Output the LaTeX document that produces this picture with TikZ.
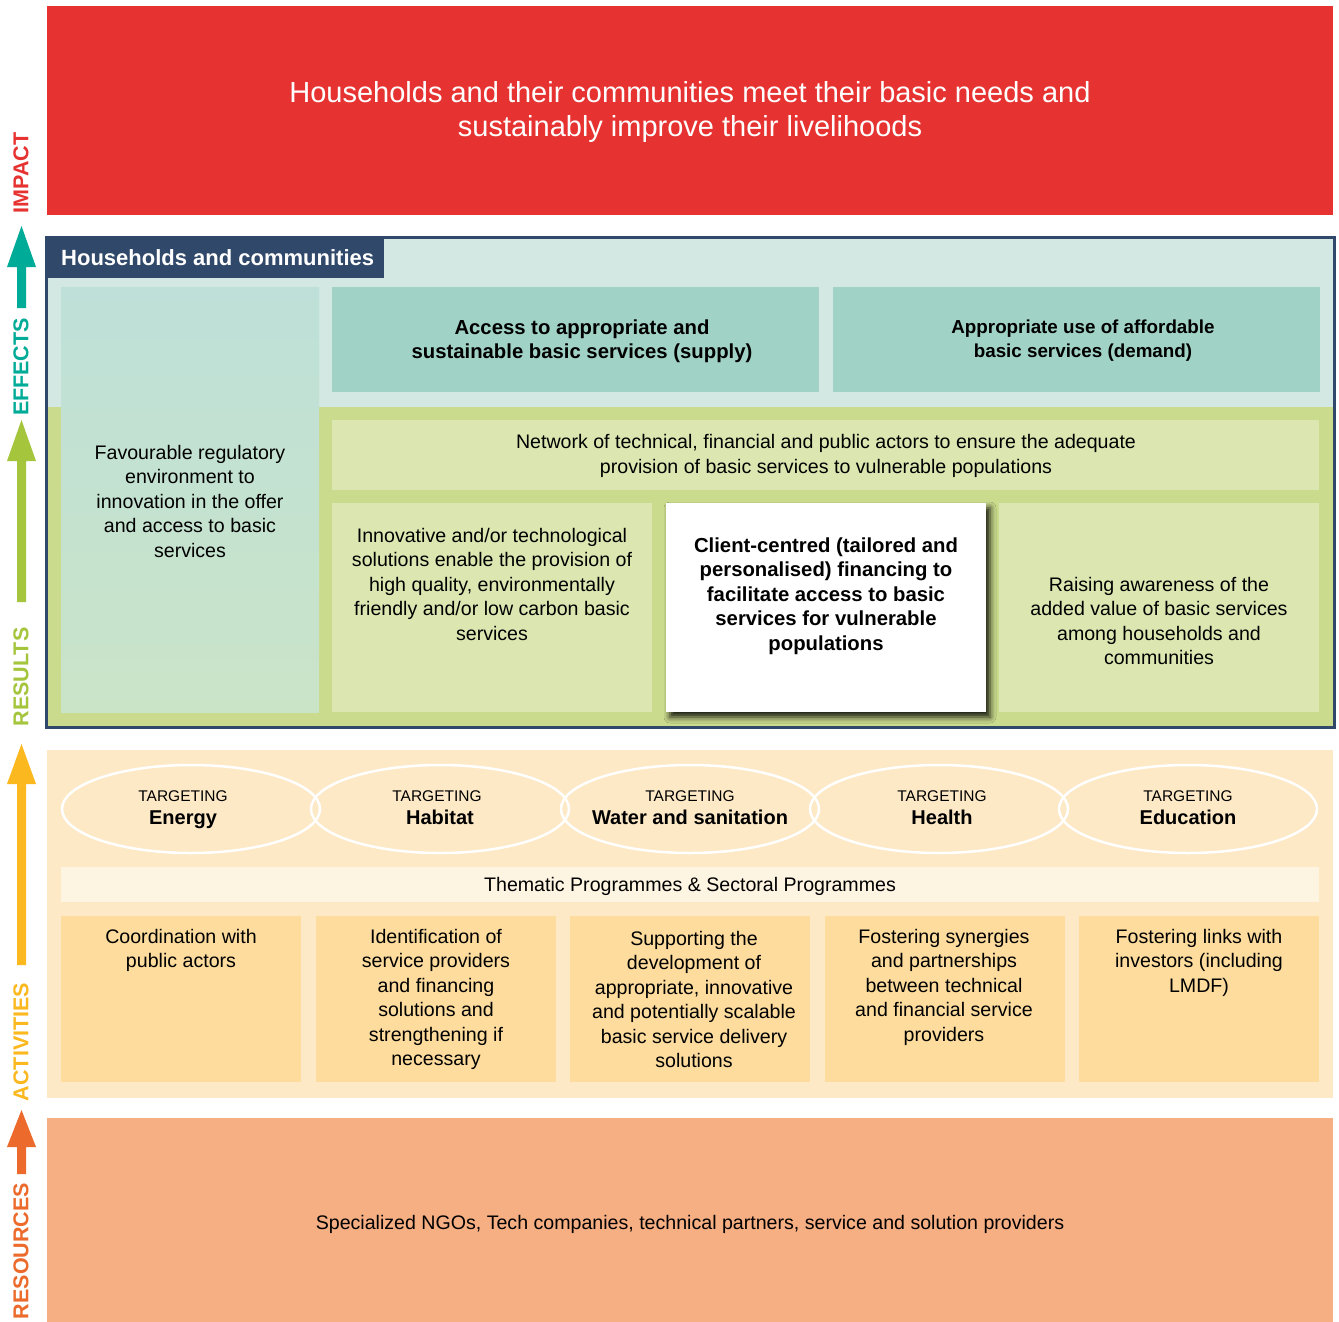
\documentclass[tikz,border=0pt]{standalone}
\usepackage{fontspec}
\setmainfont{Liberation Sans}
\usetikzlibrary{shapes.geometric,shadows.blur}
\definecolor{impactred}{HTML}{E63331}
\definecolor{navy}{HTML}{30486A}
\definecolor{teallight}{HTML}{D3E8E2}
\definecolor{tealbox}{HTML}{A1D2C6}
\definecolor{greenbg}{HTML}{CBDB8D}
\definecolor{greenbox}{HTML}{DCE6B1}
\definecolor{effteal}{HTML}{00AB97}
\definecolor{resgreen}{HTML}{A5C53C}
\definecolor{actyellow}{HTML}{FBB81F}
\definecolor{resorange}{HTML}{EC6A2B}
\definecolor{peachbg}{HTML}{FDE9C6}
\definecolor{peachband}{HTML}{FDF4E1}
\definecolor{peachbox}{HTML}{FDDC9D}
\definecolor{orangebg}{HTML}{F6AE83}
\definecolor{colA}{HTML}{BEE0D8}
\definecolor{colB}{HTML}{CAE4C8}
\tikzset{
  box/.style={rectangle, draw=none, inner sep=0pt, outer sep=0pt},
  body/.style={font=\fontsize{19.6}{24.5}\selectfont, align=center, inner sep=0pt, text=black},
  bodyb/.style={body, font=\fontsize{20.3}{24.5}\selectfont\bfseries},
  sidelabel/.style={rotate=90, inner sep=0pt, font=\fontsize{21.5}{21.5}\selectfont\bfseries},
  ell/.style={ellipse, draw=white, line width=2.5pt, minimum width=258pt, minimum height=88pt, inner sep=0pt},
  tgt/.style={inner sep=0pt, font=\fontsize{15.5}{15.5}\selectfont},
  tgtname/.style={inner sep=0pt, font=\fontsize{20}{20}\selectfont\bfseries},
  actbox/.style={box, fill=peachbox, minimum width=240pt, minimum height=166pt},
}
\begin{document}
\begin{tikzpicture}[x=1pt,y=-1pt]
\useasboundingbox (0,0) rectangle (1339,1322);
\fill[white] (0,0) rectangle (1339,1322);

% IMPACT
\node[box, fill=impactred, minimum width=1286pt, minimum height=209pt] (impact) at (690,110.5) {};
\node[inner sep=0pt, text=white, align=center, font=\fontsize{29}{34}\selectfont] (impacttxt) at (690,112)
  {Households and their communities meet their basic needs and\\sustainably improve their livelihoods};

% Frame
\node[box, fill=teallight, minimum width=1288pt, minimum height=490pt] (frame) at (690.5,482.5) {};
\fill[greenbg] (48,407) rectangle (1333,726);
\draw[navy, line width=3pt] (frame.south west) rectangle (frame.north east);
\node[box, fill=navy, minimum width=339pt, minimum height=42pt] (tab) at (214.5,257) {};
\node[inner sep=0pt, anchor=west, text=white, font=\fontsize{22}{22}\selectfont\bfseries] (tabtxt) at (61,258) {Households and communities};

% left column
\node[box, top color=colA, bottom color=colB, minimum width=258pt, minimum height=425pt] (leftcol) at (190,499.5) {};
\node[body] (lefttxt) at (190,501) {Favourable regulatory\\environment to\\innovation in the offer\\and access to basic\\services};

% supply / demand
\node[box, fill=tealbox, minimum width=487pt, minimum height=105pt] (supply) at (575.5,339.5) {};
\node[bodyb] (supplytxt) at (582,341) {Access to appropriate and\\sustainable basic services (supply)};
\node[box, fill=tealbox, minimum width=487pt, minimum height=105pt] (demand) at (1076.5,339.5) {};
\node[bodyb, font=\fontsize{18.8}{24}\selectfont\bfseries] (demandtxt) at (1083,341) {Appropriate use of affordable\\basic services (demand)};

% network
\node[box, fill=greenbox, minimum width=987pt, minimum height=70pt] (network) at (825.5,455) {};
\node[body] (networktxt) at (826,456) {Network of technical, financial and public actors to ensure the adequate\\provision of basic services to vulnerable populations};

% results row
\node[box, fill=greenbox, minimum width=320pt, minimum height=209pt] (innov) at (492,607.5) {};
\node[body] (innovtxt) at (492,584) {Innovative and/or technological\\solutions enable the provision of\\high quality, environmentally\\friendly and/or low carbon basic\\services};
\node[box, fill=white, minimum width=320pt, minimum height=209pt,
      blur shadow={shadow xshift=4pt, shadow yshift=-5pt, shadow blur radius=6pt, shadow opacity=90}] (client) at (826,607.5) {};
\node[bodyb] (clienttxt) at (826,596) {Client-centred (tailored and\\personalised) financing to\\facilitate access to basic\\services for vulnerable\\populations};
\node[box, fill=greenbox, minimum width=320pt, minimum height=209pt] (raising) at (1159,607.5) {};
\node[body] (raisingtxt) at (1159,621) {Raising awareness of the\\added value of basic services\\among households and\\communities};

% ACTIVITIES
\node[box, fill=peachbg, minimum width=1286pt, minimum height=348pt] (activities) at (690,924) {};
\node[ell] (e1) at (191,809) {};
\node[ell] (e2) at (440,809) {};
\node[ell] (e3) at (690,809) {};
\node[ell] (e4) at (939,809) {};
\node[ell] (e5) at (1188,809) {};
\node[tgt] (t1) at (183,796) {TARGETING};
\node[tgtname] (n1) at (183,819.5) {Energy};
\node[tgt] (t2) at (437,796) {TARGETING};
\node[tgtname] (n2) at (440,817) {Habitat};
\node[tgt] (t3) at (690,796) {TARGETING};
\node[tgtname] (n3) at (690,817) {Water and sanitation};
\node[tgt] (t4) at (942,796) {TARGETING};
\node[tgtname] (n4) at (942,817) {Health};
\node[tgt] (t5) at (1188,796) {TARGETING};
\node[tgtname] (n5) at (1188,817) {Education};

\node[box, fill=peachband, minimum width=1258pt, minimum height=35pt] (band) at (690,884.5) {};
\node[body] (bandtxt) at (690,886) {Thematic Programmes \& Sectoral Programmes};

\node[actbox] (a1) at (181,999) {};
\node[actbox] (a2) at (436,999) {};
\node[actbox] (a3) at (690,999) {};
\node[actbox] (a4) at (945,999) {};
\node[actbox] (a5) at (1199,999) {};
\node[body] (a1txt) at (181,950.5) {Coordination with\\public actors};
\node[body] (a2txt) at (436,999.5) {Identification of\\service providers\\and financing\\solutions and\\strengthening if\\necessary};
\node[body] (a3txt) at (694,999.5) {Supporting the\\development of\\appropriate, innovative\\and potentially scalable\\basic service delivery\\solutions};
\node[body] (a4txt) at (944,987) {Fostering synergies\\and partnerships\\between technical\\and financial service\\providers};
\node[body] (a5txt) at (1199,962.5) {Fostering links with\\investors (including\\LMDF)};

% RESOURCES
\node[box, fill=orangebg, minimum width=1286pt, minimum height=204pt] (resources) at (690,1220) {};
\node[body] (restxt) at (690,1224) {Specialized NGOs, Tech companies, technical partners, service and solution providers};

% side labels and arrows
\node[sidelabel, text=impactred] (limpact) at (21,173) {IMPACT};
\fill[effteal] (21.5,226) -- (36,267) -- (26,267) -- (26,308) -- (17,308) -- (17,267) -- (7,267) -- cycle;
\node[sidelabel, text=effteal] (leffects) at (21,367) {EFFECTS};
\fill[resgreen] (21.5,420) -- (36,461) -- (26,461) -- (26,602) -- (17,602) -- (17,461) -- (7,461) -- cycle;
\node[sidelabel, text=resgreen] (lresults) at (21,677) {RESULTS};
\fill[actyellow] (21.5,744) -- (36,784) -- (26,784) -- (26,965) -- (17,965) -- (17,784) -- (7,784) -- cycle;
\node[sidelabel, text=actyellow] (lactivities) at (21,1042) {ACTIVITIES};
\fill[resorange] (21.5,1110) -- (36,1147) -- (26,1147) -- (26,1174) -- (17,1174) -- (17,1147) -- (7,1147) -- cycle;
\node[sidelabel, text=resorange] (lresources) at (21,1251) {RESOURCES};
\end{tikzpicture}
\end{document}
